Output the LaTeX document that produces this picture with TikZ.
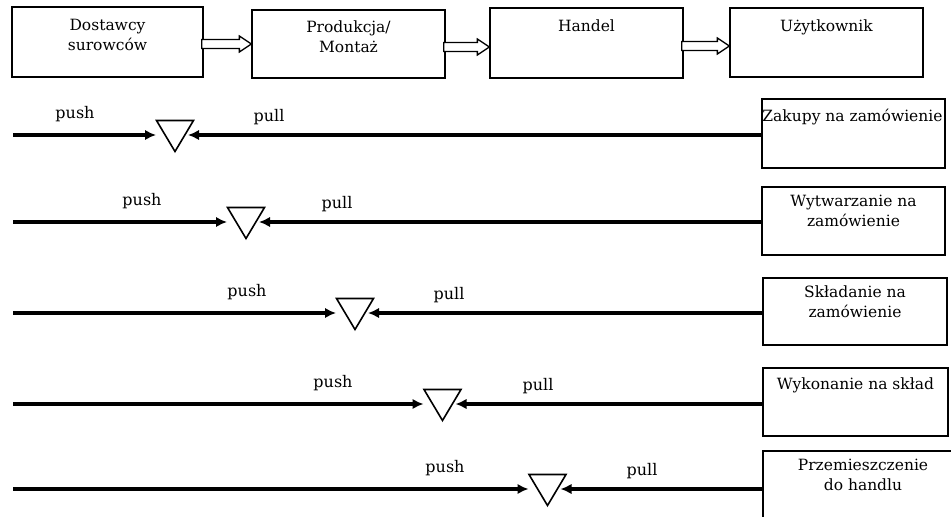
\documentclass[tikz,border=0pt]{standalone}
\usepackage{fontspec}
\setmainfont{DejaVu Serif}
\usetikzlibrary{arrows.meta,calc}

\tikzset{
  box/.style={draw, line width=1.3pt, rectangle, inner sep=0pt},
  boxtext/.style={anchor=base, align=center, inner sep=0pt,
    font=\fontsize{15.5}{20}\selectfont},
  lbl/.style={anchor=base, inner sep=0pt, font=\fontsize{16}{18}\selectfont},
  flow/.style={line width=3.4pt, -{Latex[length=11pt,width=10.5pt]}},
  tri/.style={draw, line width=1.6pt, line join=miter, fill=white},
  blk/.style={draw, line width=1.3pt, fill=white, line join=miter},
}

\begin{document}
\begin{tikzpicture}[x=1pt, y=-1pt]
\path[use as bounding box, clip] (0,0) rectangle (951,517);

% supply chain stages
\node[box, minimum width=191pt, minimum height=70pt] (b1) at (107.5,42) {};
\node[box, minimum width=193pt, minimum height=68pt] (b2) at (348.5,44) {};
\node[box, minimum width=193pt, minimum height=70pt] (b3) at (586.5,43) {};
\node[box, minimum width=193pt, minimum height=69pt] (b4) at (826.5,42.5) {};
% multi-line texts are anchored at the baseline of their last line
\node[boxtext] (b1t) at ($(b1.north)+(0,44)$) {Dostawcy\\surowców};
\node[boxtext] (b2t) at ($(b2.north)+(0,43)$) {Produkcja/\\Montaż};
\node[boxtext] (b3t) at ($(b3.north)+(0,24)$) {Handel};
\node[boxtext] (b4t) at ($(b4.north)+(0,24)$) {Użytkownik};

% hollow block arrows between stages
\foreach \a/\b/\y in {b1/b2/44, b2/b3/47, b3/b4/46}{
  \coordinate (\a s) at (\a.east |- 0,\y);
  \coordinate (\a e) at (\b.west |- 0,\y);
  \draw[blk] ($(\a s)+(-2,-4.5)$) -- ($(\a e)+(-12,-4.5)$) -- ($(\a e)+(-12,-8)$)
    -- (\a e) -- ($(\a e)+(-12,8)$) -- ($(\a e)+(-12,4.5)$) -- ($(\a s)+(-2,4.5)$) -- cycle;
}
\draw[box] (b2.west |- 0,10) -- (b2.south west);
\draw[box] (b3.west |- 0,8) -- (b3.south west);
\draw[box] (b4.west |- 0,8) -- (b4.south west);

% strategy boxes
\node[box, minimum width=183pt, minimum height=69pt] (r1) at (853.5,133.5) {};
\node[box, minimum width=183pt, minimum height=68pt] (r2) at (853.5,221) {};
\node[box, minimum width=184pt, minimum height=67pt] (r3) at (855,311.5) {};
\node[box, minimum width=185pt, minimum height=68pt] (r4) at (855.5,402) {};
\node[box, minimum width=200pt, minimum height=90pt] (r5) at (863,496) {};
\node[boxtext] (r1t) at ($(r1.north)+(-1,23)$) {Zakupy na zamówienie};
\node[boxtext] (r2t) at ($(r2.north)+(0,40)$) {Wytwarzanie na\\zamówienie};
\node[boxtext] (r3t) at ($(r3.north)+(0,40)$) {Składanie na\\zamówienie};
\node[boxtext] (r4t) at ($(r4.north)+(0,22)$) {Wykonanie na skład};
\node[boxtext] (r5t) at (863,490) {Przemieszczenie\\do handlu};

% decoupling points with push and pull flows
\foreach \i/\ly/\cx/\pushx/\pullx in {1/135/175/75/269, 2/222/246/142/337,
    3/313/355/247/449, 4/404/442.5/333/538, 5/489/547.5/445/642}{
  \coordinate (s\i) at (13,\ly);
  \coordinate (tri\i) at (\cx,\ly);
  \draw[flow] (s\i) -- ($(tri\i)+(-19,0)$);
  \draw[flow] (r\i.west |- tri\i) -- ($(tri\i)+(13,0)$);
  \draw[tri] ($(tri\i)+(-18.5,-14.5)$) -- ($(tri\i)+(18.5,-14.5)$)
    -- ($(tri\i)+(0,16.5)$) -- cycle;
  \node[lbl] (push\i) at (\pushx,\ly-17) {push};
  \node[lbl] (pull\i) at (\pullx,\ly-14) {pull};
}
\end{tikzpicture}
\end{document}
